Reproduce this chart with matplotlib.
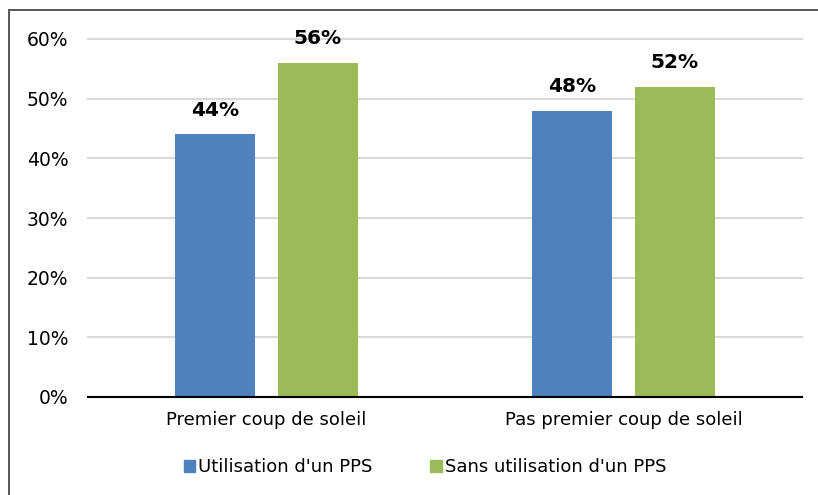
import matplotlib
matplotlib.use("Agg")
import matplotlib.pyplot as plt
from matplotlib.patches import Rectangle, Patch
import numpy as np

categories = ["Premier coup de soleil", "Pas premier coup de soleil"]
series_names = ["Utilisation d'un PPS", "Sans utilisation d'un PPS"]
with_pps = [44, 48]
without_pps = [56, 52]
yticks = [0, 10, 20, 30, 40, 50, 60]

colors = ["#4F81BD", "#9BBB59"]

fig = plt.figure(figsize=(8.18, 4.95), dpi=100)
ax = fig.add_axes([88 / 818, 1 - 397 / 495, 714 / 818, 358 / 495])

# outer chart frame
fig.patches.append(Rectangle((9 / 818, -0.1), 1.2, 1 - 10 / 495 + 0.1,
                             transform=fig.transFigure, fill=False,
                             edgecolor="#3a3a3a", linewidth=1.2))

x = np.arange(len(categories))
width = 0.224
offset = 0.143
for vals, col, dx in [(with_pps, colors[0], -offset), (without_pps, colors[1], offset)]:
    bars = ax.bar(x + dx, vals, width=width, color=col, zorder=3)
    for b, v in zip(bars, vals):
        ax.text(b.get_x() + b.get_width() / 2, v + 2.5, f"{v}%",
                ha="center", va="bottom", fontsize=14.5, fontweight="bold")

ax.set_xlim(-0.5, 1.5)
ax.set_ylim(0, 60)
ax.set_yticks(yticks)
ax.set_yticklabels([f"{t}%" for t in yticks], fontsize=13.5)
ax.set_xticks(x)
ax.set_xticklabels(categories, fontsize=13)
ax.tick_params(axis="y", length=0, pad=14)
ax.tick_params(axis="x", length=0, pad=10)
ax.yaxis.grid(True, color="#d9d9d9", linewidth=1.5, zorder=0)
for gl in ax.get_ygridlines():
    gl.set_clip_on(False)
for s in ["top", "right", "left"]:
    ax.spines[s].set_visible(False)
ax.spines["bottom"].set_color("black")
ax.spines["bottom"].set_linewidth(1.5)
ax.spines["bottom"].set_zorder(4)

handles = [Patch(color=c) for c in colors]
fig.legend(handles, series_names, loc="center", bbox_to_anchor=(425 / 818, 1 - 467 / 495),
           ncol=2, frameon=False, fontsize=13, handlelength=0.65, handleheight=0.65,
           handletextpad=0.15, columnspacing=3.2)

fig.savefig("out.png", dpi=100)
